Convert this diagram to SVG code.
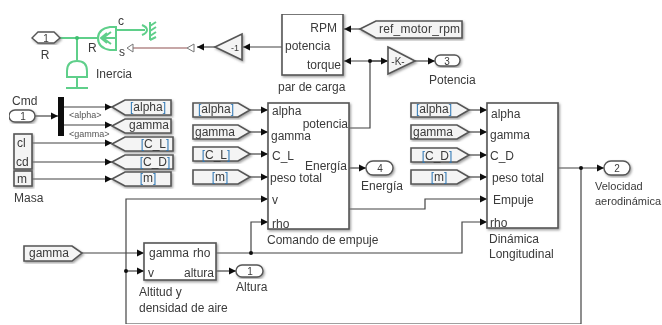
<svg xmlns="http://www.w3.org/2000/svg" width="662" height="325" viewBox="0 0 662 325">
<style>
text{font-family:"Liberation Sans",Arial,sans-serif;font-size:12px;fill:#3a3a3a}
.s{font-size:9px;fill:#555}
.b{fill:#fff;stroke:#555;stroke-width:1.6}
.t{fill:#f4f4f4;stroke:#555;stroke-width:1.6}
.w{fill:#fff;stroke:#555;stroke-width:1.4}
.k{fill:#2f78b5}
.l{fill:none;stroke:#444;stroke-width:1.2}
.g{fill:none;stroke:#5fcf8a;stroke-width:2}
.m{text-anchor:middle}
.e{text-anchor:end}
</style>
<defs>
<marker id="a" markerUnits="userSpaceOnUse" markerWidth="8" markerHeight="8" refX="7" refY="4" orient="auto"><path d="M0 0.5L7 4L0 7.5z" fill="#111"/></marker>
<filter id="sh" x="-10%" y="-10%" width="125%" height="125%"><feDropShadow dx="1.2" dy="1.5" stdDeviation="0.8" flood-color="#777" flood-opacity="0.7"/></filter>
<filter id="soft" x="0" y="0" width="100%" height="100%"><feGaussianBlur stdDeviation="0.45"/></filter>
</defs>
<rect width="662" height="325" fill="#fff"/>
<g filter="url(#soft)">
<g id="connectors" class="l">
<path class="g" d="M60 38H98M77 38V60M117 30H145"/>
<circle cx="77" cy="38" r="2" fill="#3fbf70" stroke="none"/>
<path d="M133 48H187" fill="none" stroke="#b58a8a" stroke-width="1.4"/>
<path class="l" d="M215 47H197" marker-end="url(#a)"/>
<path class="l" d="M282 47H243" marker-end="url(#a)"/>
<path class="l" d="M360 29H344" marker-end="url(#a)"/>
<path class="l" d="M387 61H344" marker-end="url(#a)"/>
<path class="l" d="M370 61H388" marker-end="url(#a)"/>
<path class="l" d="M415 61H435" marker-end="url(#a)"/>
<path class="l" d="M370 61V128H349"/>
<circle cx="370" cy="61" r="2" fill="#111" stroke="none"/>
<path class="l" d="M35 116H58" marker-end="url(#a)"/>
<path class="l" d="M64 107H112" marker-end="url(#a)"/>
<path class="l" d="M64 125H112" marker-end="url(#a)"/>
<path class="l" d="M32 143H112" marker-end="url(#a)"/>
<path class="l" d="M32 162H112" marker-end="url(#a)"/>
<path class="l" d="M32 179H112" marker-end="url(#a)"/>
<path class="l" d="M250 110H268" marker-end="url(#a)"/>
<path class="l" d="M250 132H268" marker-end="url(#a)"/>
<path class="l" d="M250 154H268" marker-end="url(#a)"/>
<path class="l" d="M250 177H268" marker-end="url(#a)"/>
<path class="l" d="M469 110H487" marker-end="url(#a)"/>
<path class="l" d="M469 132H487" marker-end="url(#a)"/>
<path class="l" d="M469 155H487" marker-end="url(#a)"/>
<path class="l" d="M469 177H487" marker-end="url(#a)"/>
<path class="l" d="M349 168H366" marker-end="url(#a)"/>
<path class="l" d="M558 168H604" marker-end="url(#a)"/>
<path class="l" d="M581 168V324H126V199H268" marker-end="url(#a)"/>
<circle cx="581" cy="168" r="2" fill="#111" stroke="none"/>
<path class="l" d="M349 209H425V199H487" marker-end="url(#a)"/>
<path class="l" d="M216 253H462V222H487" marker-end="url(#a)"/>
<path class="l" d="M251 253V222H268" marker-end="url(#a)"/>
<circle cx="251" cy="253" r="2" fill="#111" stroke="none"/>
<path class="l" d="M82 253H144" marker-end="url(#a)"/>
<path class="l" d="M126 271H144" marker-end="url(#a)"/>
<circle cx="126" cy="271" r="2" fill="#111" stroke="none"/>
<path class="l" d="M216 271H236" marker-end="url(#a)"/>
</g>
<g id="in-R"><path class="w" filter="url(#sh)" d="M32 38L38 32H54L60 38L54 43H38z"/><text class="m" x="46" y="42" style="font-size:10px">1</text><text class="m" x="45" y="59">R</text></g>
<g id="inercia"><path class="g" d="M67 77V71Q67 61 77 61Q87 61 87 71V77zM77 78V88M66 88H88"/><text x="96" y="78">Inercia</text></g>
<g id="convertidor"><path class="g" d="M116 27H110Q98 29 98 38Q98 48 110 50H116zM116 38H103M111 32L103 38L111 44M107 33L101 38L107 43"/><text x="118" y="25">c</text><text x="88" y="52">R</text><text x="119" y="56">s</text></g>
<g id="tierra"><path class="g" d="M142 25Q147 27 147 30Q147 33 142 35M150 22V40M150 26L156 22M150 31L156 27M150 36L156 32M150 40L156 37"/></g>
<g id="open-arrows"><path d="M133 44V52L127 48z" fill="#fff" stroke="#777"/><path d="M194 44V52L187 48z" fill="#fff" stroke="#777"/></g>
<g id="gain-1"><path class="t" filter="url(#sh)" d="M215 47L242 34V60z"/><text class="m" x="235" y="51" style="font-size:9px">-1</text></g>
<g id="par-de-carga"><rect class="b" filter="url(#sh)" x="282" y="14" width="61" height="61"/><text class="e" x="337" y="32">RPM</text><text x="285" y="50">potencia</text><text class="e" x="341" y="69">torque</text><text x="278" y="91">par de carga</text></g>
<g id="ref-motor-rpm"><path class="t" filter="url(#sh)" d="M360 29L376 21H462V38H376z"/><text x="379" y="33" style="letter-spacing:.2px">ref_motor_rpm</text></g>
<g id="gain-k"><path class="t" filter="url(#sh)" d="M388 47L415 61L388 74z"/><text class="m" x="398" y="65" style="font-size:10px">-K-</text></g>
<g id="out-3"><rect class="w" filter="url(#sh)" x="435" y="55" width="25" height="11" rx="5.500"/><text class="m" x="447" y="65" style="font-size:10px">3</text><text x="429" y="84">Potencia</text></g>
<g id="in-cmd"><rect class="w" filter="url(#sh)" x="9" y="110" width="26" height="12" rx="6"/><text class="m" x="23" y="120" style="font-size:10px">1</text><text x="12" y="105">Cmd</text></g>
<g id="bus"><rect x="58" y="97" width="6" height="39" fill="#111"/><text class="s" x="69" y="118">&lt;alpha&gt;</text><text class="s" x="69" y="137">&lt;gamma&gt;</text></g>
<g id="tag-alpha"><path class="t" filter="url(#sh)" d="M112 107L125 100H171V115H125z"/><text class="m" x="148" y="111"><tspan class="k">[</tspan>alpha<tspan class="k">]</tspan></text></g>
<g id="tag-gamma"><path class="t" filter="url(#sh)" d="M112 126L125 119H171V133H125z"/><text class="m" x="149" y="129">gamma</text></g>
<g id="tag-cl"><path class="t" filter="url(#sh)" d="M112 144L125 137H173V151H125z"/><text class="m" x="155" y="148"><tspan class="k">[</tspan>C_L<tspan class="k">]</tspan></text></g>
<g id="tag-cd"><path class="t" filter="url(#sh)" d="M112 162L125 155H173V169H125z"/><text class="m" x="155" y="166"><tspan class="k">[</tspan>C_D<tspan class="k">]</tspan></text></g>
<g id="tag-m"><path class="t" filter="url(#sh)" d="M112 179L125 172H171V186H125z"/><text class="m" x="148" y="182"><tspan class="k">[</tspan>m<tspan class="k">]</tspan></text></g>
<g id="cl-cd"><rect class="t" filter="url(#sh)" x="14" y="134" width="18" height="35"/><text x="17" y="147">cl</text><text x="16" y="166">cd</text></g>
<g id="masa"><rect class="t" filter="url(#sh)" x="14" y="171" width="18" height="15"/><text x="17" y="183">m</text><text x="14" y="202">Masa</text></g>
<g id="from-alpha"><path class="t" filter="url(#sh)" d="M193 103H238L250 110L238 117H193z"/><text class="m" x="216" y="113"><tspan class="k">[</tspan>alpha<tspan class="k">]</tspan></text></g>
<g id="from-gamma"><path class="t" filter="url(#sh)" d="M193 125H238L250 132L238 139H193z"/><text class="m" x="215" y="136">gamma</text></g>
<g id="from-cl"><path class="t" filter="url(#sh)" d="M193 147H238L250 154L238 161H193z"/><text class="m" x="216" y="159"><tspan class="k">[</tspan>C_L<tspan class="k">]</tspan></text></g>
<g id="from-m"><path class="t" filter="url(#sh)" d="M193 170H238L250 177L238 184H193z"/><text class="m" x="220" y="181"><tspan class="k">[</tspan>m<tspan class="k">]</tspan></text></g>
<g id="comando"><rect class="b" filter="url(#sh)" x="268" y="103" width="81" height="126"/><text x="272" y="115">alpha</text><text x="271" y="140">gamma</text><text x="272" y="160">C_L</text><text x="270" y="182">peso total</text><text x="272" y="204">v</text><text x="272" y="228">rho</text><text class="e" x="348" y="128">potencia</text><text class="e" x="347" y="170">Energía</text><text x="267" y="244">Comando de empuje</text></g>
<g id="out-4"><rect class="w" filter="url(#sh)" x="366" y="161" width="27" height="14" rx="7"/><text class="m" x="380" y="172" style="font-size:10px">4</text><text x="361" y="190">Energía</text></g>
<g id="from-alpha2"><path class="t" filter="url(#sh)" d="M411 103H457L469 110L457 117H411z"/><text class="m" x="434" y="113"><tspan class="k">[</tspan>alpha<tspan class="k">]</tspan></text></g>
<g id="from-gamma2"><path class="t" filter="url(#sh)" d="M411 125H457L469 132L457 139H411z"/><text class="m" x="433" y="136">gamma</text></g>
<g id="from-cd"><path class="t" filter="url(#sh)" d="M411 148H457L469 155L457 162H411z"/><text class="m" x="437" y="160"><tspan class="k">[</tspan>C_D<tspan class="k">]</tspan></text></g>
<g id="from-m2"><path class="t" filter="url(#sh)" d="M411 170H457L469 177L457 184H411z"/><text class="m" x="439" y="181"><tspan class="k">[</tspan>m<tspan class="k">]</tspan></text></g>
<g id="dinamica"><rect class="b" filter="url(#sh)" x="487" y="103" width="71" height="125"/><text x="491" y="118">alpha</text><text x="490" y="139">gamma</text><text x="490" y="160">C_D</text><text x="492" y="182">peso total</text><text x="493" y="204">Empuje</text><text x="490" y="227">rho</text><text x="489" y="243">Dinámica</text><text x="489" y="258">Longitudinal</text></g>
<g id="out-2"><rect class="w" filter="url(#sh)" x="604" y="161" width="26" height="14" rx="7"/><text class="m" x="617" y="172" style="font-size:10px">2</text><text x="595" y="190" style="font-size:11px">Velocidad</text><text x="595" y="205" style="font-size:11px">aerodinámica</text></g>
<g id="from-gamma3"><path class="t" filter="url(#sh)" d="M24 246H72L82 253L72 261H24z"/><text x="29" y="257">gamma</text></g>
<g id="altitud"><rect class="b" filter="url(#sh)" x="144" y="243" width="72" height="37"/><text x="149" y="257">gamma</text><text x="193" y="257">rho</text><text x="148" y="277">v</text><text x="184" y="277">altura</text><text x="139" y="296">Altitud y</text><text x="139" y="312">densidad de aire</text></g>
<g id="out-1"><rect class="w" filter="url(#sh)" x="236" y="265" width="27" height="12" rx="6"/><text class="m" x="250" y="275" style="font-size:10px">1</text><text x="236" y="291">Altura</text></g>
</g>
</svg>
